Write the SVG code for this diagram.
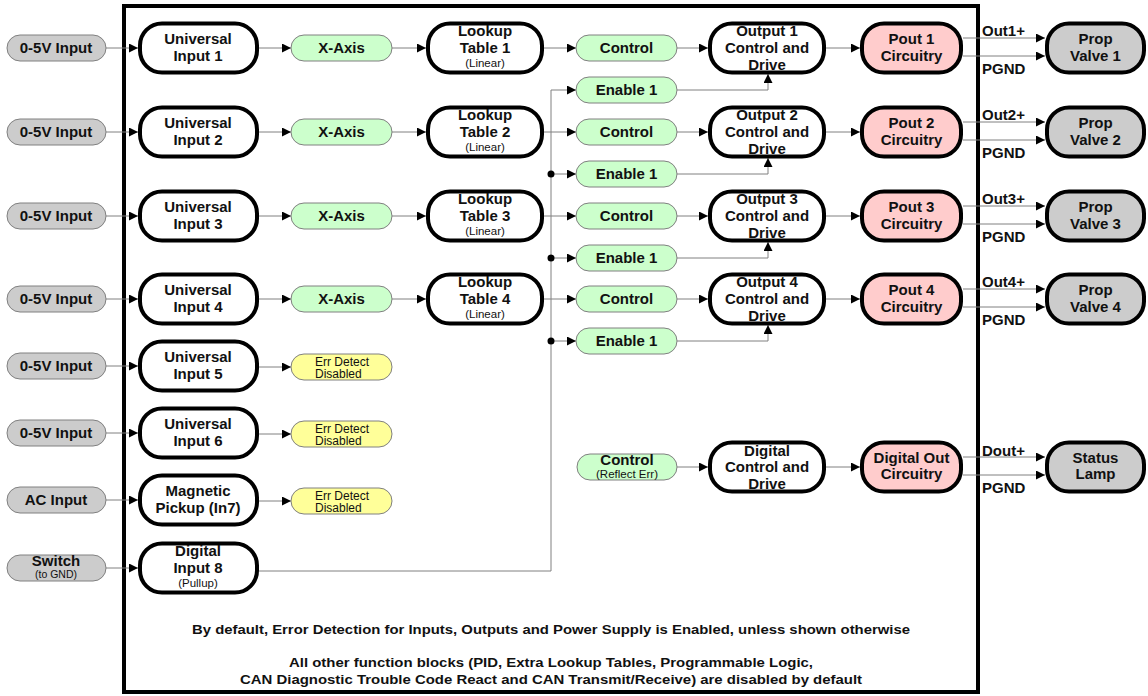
<svg xmlns="http://www.w3.org/2000/svg" width="1148" height="696" viewBox="0 0 1148 696">
<style>
.big{fill:#fff;stroke:#000;stroke-width:4}
.pk{fill:#ffcccc}
.gy{fill:#cccccc}
.pill{stroke:#808080;stroke-width:1}
.in{fill:#cccccc}
.gn{fill:#ccffcc}
.yl{fill:#ffff99}
text{font-family:"Liberation Sans",Arial,sans-serif;fill:#111;text-anchor:middle}
.t{font-size:15px;font-weight:bold}
.s{font-size:11.5px}
.e{font-size:12px;text-anchor:start}
.l{text-anchor:start}
.c{fill:none;stroke:#808080;stroke-width:1}
.note{font-size:13px;font-weight:bold}
</style>
<defs>
<marker id="a" viewBox="0 0 10 10" refX="10" refY="5" markerWidth="9" markerHeight="9" orient="auto" markerUnits="userSpaceOnUse"><path d="M0,0 L10,5 L0,10 z" fill="#000"/></marker>
</defs>
<rect x="124" y="6" width="854" height="686" fill="none" stroke="#000" stroke-width="4"/>

<g id="connectors">
<path class="c" d="M106,48H138" marker-end="url(#a)"/>
<path class="c" d="M106,132H138" marker-end="url(#a)"/>
<path class="c" d="M106,216H138" marker-end="url(#a)"/>
<path class="c" d="M106,299H138" marker-end="url(#a)"/>
<path class="c" d="M106,366H138" marker-end="url(#a)"/>
<path class="c" d="M106,433H138" marker-end="url(#a)"/>
<path class="c" d="M106,500H138" marker-end="url(#a)"/>
<path class="c" d="M106,568H138" marker-end="url(#a)"/>
<path class="c" d="M259,48H291" marker-end="url(#a)"/>
<path class="c" d="M259,132H291" marker-end="url(#a)"/>
<path class="c" d="M259,216H291" marker-end="url(#a)"/>
<path class="c" d="M259,299H291" marker-end="url(#a)"/>
<path class="c" d="M259,367H291" marker-end="url(#a)"/>
<path class="c" d="M259,434H291" marker-end="url(#a)"/>
<path class="c" d="M259,501H291" marker-end="url(#a)"/>
<path class="c" d="M392,48H426" marker-end="url(#a)"/>
<path class="c" d="M392,132H426" marker-end="url(#a)"/>
<path class="c" d="M392,216H426" marker-end="url(#a)"/>
<path class="c" d="M392,299H426" marker-end="url(#a)"/>
<path class="c" d="M544,48H576" marker-end="url(#a)"/>
<path class="c" d="M544,132H576" marker-end="url(#a)"/>
<path class="c" d="M544,216H576" marker-end="url(#a)"/>
<path class="c" d="M544,299H576" marker-end="url(#a)"/>
<path class="c" d="M677,48H708" marker-end="url(#a)"/>
<path class="c" d="M677,132H708" marker-end="url(#a)"/>
<path class="c" d="M677,216H708" marker-end="url(#a)"/>
<path class="c" d="M677,299H708" marker-end="url(#a)"/>
<path class="c" d="M677,467H708" marker-end="url(#a)"/>
<path class="c" d="M826,48H860" marker-end="url(#a)"/>
<path class="c" d="M826,132H860" marker-end="url(#a)"/>
<path class="c" d="M826,216H860" marker-end="url(#a)"/>
<path class="c" d="M826,299H860" marker-end="url(#a)"/>
<path class="c" d="M826,467H860" marker-end="url(#a)"/>
<path class="c" d="M963,38H1045" marker-end="url(#a)"/>
<path class="c" d="M963,56H1045" marker-end="url(#a)"/>
<path class="c" d="M963,122H1045" marker-end="url(#a)"/>
<path class="c" d="M963,140H1045" marker-end="url(#a)"/>
<path class="c" d="M963,206H1045" marker-end="url(#a)"/>
<path class="c" d="M963,224H1045" marker-end="url(#a)"/>
<path class="c" d="M963,289H1045" marker-end="url(#a)"/>
<path class="c" d="M963,307H1045" marker-end="url(#a)"/>
<path class="c" d="M963,457H1045" marker-end="url(#a)"/>
<path class="c" d="M963,475H1045" marker-end="url(#a)"/>
<path class="c" d="M259,571H551V90H576" marker-end="url(#a)"/>
<path class="c" d="M551,174H576" marker-end="url(#a)"/>
<path class="c" d="M551,258H576" marker-end="url(#a)"/>
<path class="c" d="M551,341H576" marker-end="url(#a)"/>
<circle cx="551" cy="174" r="3.5" fill="#000"/>
<circle cx="551" cy="258" r="3.5" fill="#000"/>
<circle cx="551" cy="341" r="3.5" fill="#000"/>
<path class="c" d="M677,90H768V74" marker-end="url(#a)"/>
<path class="c" d="M677,174H768V158" marker-end="url(#a)"/>
<path class="c" d="M677,258H768V242" marker-end="url(#a)"/>
<path class="c" d="M677,341H768V325" marker-end="url(#a)"/>
<text class="t l" x="982" y="36">Out1+</text>
<text class="t l" x="982" y="74">PGND</text>
<text class="t l" x="982" y="120">Out2+</text>
<text class="t l" x="982" y="158">PGND</text>
<text class="t l" x="982" y="204">Out3+</text>
<text class="t l" x="982" y="242">PGND</text>
<text class="t l" x="982" y="287">Out4+</text>
<text class="t l" x="982" y="325">PGND</text>
<text class="t l" x="982" y="456">Dout+</text>
<text class="t l" x="982" y="493">PGND</text>
</g>

<g id="in1"><rect class="pill in" x="7" y="35" width="99" height="26" rx="13"/><text class="t" x="56" y="53">0-5V Input</text></g>
<g id="in2"><rect class="pill in" x="7" y="119" width="99" height="26" rx="13"/><text class="t" x="56" y="137">0-5V Input</text></g>
<g id="in3"><rect class="pill in" x="7" y="203" width="99" height="26" rx="13"/><text class="t" x="56" y="221">0-5V Input</text></g>
<g id="in4"><rect class="pill in" x="7" y="286" width="99" height="26" rx="13"/><text class="t" x="56" y="304">0-5V Input</text></g>
<g id="in5"><rect class="pill in" x="7" y="353" width="99" height="26" rx="13"/><text class="t" x="56" y="371">0-5V Input</text></g>
<g id="in6"><rect class="pill in" x="7" y="420" width="99" height="26" rx="13"/><text class="t" x="56" y="438">0-5V Input</text></g>
<g id="in7"><rect class="pill in" x="7" y="487" width="99" height="26" rx="13"/><text class="t" x="56" y="505">AC Input</text></g>
<g id="in8"><rect class="pill in" x="7" y="555" width="99" height="26" rx="13"/><text class="t" x="56" y="566">Switch</text><text x="56" y="578" style="font-size:10.5px">(to GND)</text></g>

<g id="ui1"><rect class="big" x="140" y="23.5" width="117" height="49" rx="22"/><text class="t" x="198" y="44">Universal</text><text class="t" x="198" y="61">Input 1</text></g>
<g id="ui2"><rect class="big" x="140" y="107.5" width="117" height="49" rx="22"/><text class="t" x="198" y="128">Universal</text><text class="t" x="198" y="145">Input 2</text></g>
<g id="ui3"><rect class="big" x="140" y="191.5" width="117" height="49" rx="22"/><text class="t" x="198" y="212">Universal</text><text class="t" x="198" y="229">Input 3</text></g>
<g id="ui4"><rect class="big" x="140" y="274.5" width="117" height="49" rx="22"/><text class="t" x="198" y="295">Universal</text><text class="t" x="198" y="312">Input 4</text></g>
<g id="ui5"><rect class="big" x="140" y="341.5" width="117" height="49" rx="22"/><text class="t" x="198" y="362">Universal</text><text class="t" x="198" y="379">Input 5</text></g>
<g id="ui6"><rect class="big" x="140" y="408.5" width="117" height="49" rx="22"/><text class="t" x="198" y="429">Universal</text><text class="t" x="198" y="446">Input 6</text></g>
<g id="ui7"><rect class="big" x="140" y="475.5" width="117" height="49" rx="22"/><text class="t" x="198" y="496">Magnetic</text><text class="t" x="198" y="513">Pickup (In7)</text></g>
<g id="ui8"><rect class="big" x="140" y="543.5" width="117" height="49" rx="22"/><text class="t" x="198" y="556">Digital</text><text class="t" x="198" y="573">Input 8</text><text class="s" x="198" y="587">(Pullup)</text></g>

<g id="xa1"><rect class="pill gn" x="291" y="35" width="101" height="26" rx="13"/><text class="t" x="341.5" y="53">X-Axis</text></g>
<g id="xa2"><rect class="pill gn" x="291" y="119" width="101" height="26" rx="13"/><text class="t" x="341.5" y="137">X-Axis</text></g>
<g id="xa3"><rect class="pill gn" x="291" y="203" width="101" height="26" rx="13"/><text class="t" x="341.5" y="221">X-Axis</text></g>
<g id="xa4"><rect class="pill gn" x="291" y="286" width="101" height="26" rx="13"/><text class="t" x="341.5" y="304">X-Axis</text></g>

<g id="ed5"><rect class="pill yl" x="291" y="354" width="101" height="26" rx="13"/><text class="e" x="315" y="366">Err Detect</text><text class="e" x="315" y="378">Disabled</text></g>
<g id="ed6"><rect class="pill yl" x="291" y="421" width="101" height="26" rx="13"/><text class="e" x="315" y="433">Err Detect</text><text class="e" x="315" y="445">Disabled</text></g>
<g id="ed7"><rect class="pill yl" x="291" y="488" width="101" height="26" rx="13"/><text class="e" x="315" y="500">Err Detect</text><text class="e" x="315" y="512">Disabled</text></g>

<g id="lt1"><rect class="big" x="428" y="23.5" width="114" height="49" rx="22"/><text class="t" x="485" y="36">Lookup</text><text class="t" x="485" y="53">Table 1</text><text class="s" x="485" y="67">(Linear)</text></g>
<g id="lt2"><rect class="big" x="428" y="107.5" width="114" height="49" rx="22"/><text class="t" x="485" y="120">Lookup</text><text class="t" x="485" y="137">Table 2</text><text class="s" x="485" y="151">(Linear)</text></g>
<g id="lt3"><rect class="big" x="428" y="191.5" width="114" height="49" rx="22"/><text class="t" x="485" y="204">Lookup</text><text class="t" x="485" y="221">Table 3</text><text class="s" x="485" y="235">(Linear)</text></g>
<g id="lt4"><rect class="big" x="428" y="274.5" width="114" height="49" rx="22"/><text class="t" x="485" y="287">Lookup</text><text class="t" x="485" y="304">Table 4</text><text class="s" x="485" y="318">(Linear)</text></g>

<g id="ct1"><rect class="pill gn" x="576" y="35" width="101" height="26" rx="13"/><text class="t" x="626.5" y="53">Control</text></g>
<g id="en1"><rect class="pill gn" x="576" y="77" width="101" height="26" rx="13"/><text class="t" x="626.5" y="95">Enable 1</text></g>
<g id="ct2"><rect class="pill gn" x="576" y="119" width="101" height="26" rx="13"/><text class="t" x="626.5" y="137">Control</text></g>
<g id="en2"><rect class="pill gn" x="576" y="161" width="101" height="26" rx="13"/><text class="t" x="626.5" y="179">Enable 1</text></g>
<g id="ct3"><rect class="pill gn" x="576" y="203" width="101" height="26" rx="13"/><text class="t" x="626.5" y="221">Control</text></g>
<g id="en3"><rect class="pill gn" x="576" y="245" width="101" height="26" rx="13"/><text class="t" x="626.5" y="263">Enable 1</text></g>
<g id="ct4"><rect class="pill gn" x="576" y="286" width="101" height="26" rx="13"/><text class="t" x="626.5" y="304">Control</text></g>
<g id="en4"><rect class="pill gn" x="576" y="328" width="101" height="26" rx="13"/><text class="t" x="626.5" y="346">Enable 1</text></g>
<g id="ctd"><rect class="pill gn" x="577" y="454" width="100" height="26" rx="13"/><text class="t" x="627" y="465">Control</text><text class="s" x="627" y="478">(Reflect Err)</text></g>

<g id="oc1"><rect class="big" x="710" y="23.5" width="114" height="49" rx="22"/><text class="t" x="767" y="36">Output 1</text><text class="t" x="767" y="53">Control and</text><text class="t" x="767" y="70">Drive</text></g>
<g id="oc2"><rect class="big" x="710" y="107.5" width="114" height="49" rx="22"/><text class="t" x="767" y="120">Output 2</text><text class="t" x="767" y="137">Control and</text><text class="t" x="767" y="154">Drive</text></g>
<g id="oc3"><rect class="big" x="710" y="191.5" width="114" height="49" rx="22"/><text class="t" x="767" y="204">Output 3</text><text class="t" x="767" y="221">Control and</text><text class="t" x="767" y="238">Drive</text></g>
<g id="oc4"><rect class="big" x="710" y="274.5" width="114" height="49" rx="22"/><text class="t" x="767" y="287">Output 4</text><text class="t" x="767" y="304">Control and</text><text class="t" x="767" y="321">Drive</text></g>
<g id="ocd"><rect class="big" x="710" y="442.5" width="114" height="49" rx="22"/><text class="t" x="767" y="456">Digital</text><text class="t" x="767" y="472">Control and</text><text class="t" x="767" y="489">Drive</text></g>

<g id="pc1"><rect class="big pk" x="862" y="23.5" width="99" height="49" rx="22"/><text class="t" x="911.5" y="44">Pout 1</text><text class="t" x="911.5" y="61">Circuitry</text></g>
<g id="pc2"><rect class="big pk" x="862" y="107.5" width="99" height="49" rx="22"/><text class="t" x="911.5" y="128">Pout 2</text><text class="t" x="911.5" y="145">Circuitry</text></g>
<g id="pc3"><rect class="big pk" x="862" y="191.5" width="99" height="49" rx="22"/><text class="t" x="911.5" y="212">Pout 3</text><text class="t" x="911.5" y="229">Circuitry</text></g>
<g id="pc4"><rect class="big pk" x="862" y="274.5" width="99" height="49" rx="22"/><text class="t" x="911.5" y="295">Pout 4</text><text class="t" x="911.5" y="312">Circuitry</text></g>
<g id="pcd"><rect class="big pk" x="862" y="442.5" width="99" height="49" rx="22"/><text class="t" x="911.5" y="463">Digital Out</text><text class="t" x="911.5" y="479">Circuitry</text></g>

<g id="pv1"><rect class="big gy" x="1047" y="23.5" width="97" height="49" rx="22"/><text class="t" x="1095.5" y="44">Prop</text><text class="t" x="1095.5" y="61">Valve 1</text></g>
<g id="pv2"><rect class="big gy" x="1047" y="107.5" width="97" height="49" rx="22"/><text class="t" x="1095.5" y="128">Prop</text><text class="t" x="1095.5" y="145">Valve 2</text></g>
<g id="pv3"><rect class="big gy" x="1047" y="191.5" width="97" height="49" rx="22"/><text class="t" x="1095.5" y="212">Prop</text><text class="t" x="1095.5" y="229">Valve 3</text></g>
<g id="pv4"><rect class="big gy" x="1047" y="274.5" width="97" height="49" rx="22"/><text class="t" x="1095.5" y="295">Prop</text><text class="t" x="1095.5" y="312">Valve 4</text></g>
<g id="sl"><rect class="big gy" x="1047" y="442.5" width="97" height="49" rx="22"/><text class="t" x="1095.5" y="463">Status</text><text class="t" x="1095.5" y="479">Lamp</text></g>

<g id="notes">
<text class="note" x="551" y="634" textLength="718" lengthAdjust="spacingAndGlyphs">By default, Error Detection for Inputs, Outputs and Power Supply is Enabled, unless shown otherwise</text>
<text class="note" x="551" y="667" textLength="524" lengthAdjust="spacingAndGlyphs">All other function blocks (PID, Extra Lookup Tables, Programmable Logic,</text>
<text class="note" x="551" y="684" textLength="622" lengthAdjust="spacingAndGlyphs">CAN Diagnostic Trouble Code React and CAN Transmit/Receive) are disabled by default</text>
</g>
</svg>
